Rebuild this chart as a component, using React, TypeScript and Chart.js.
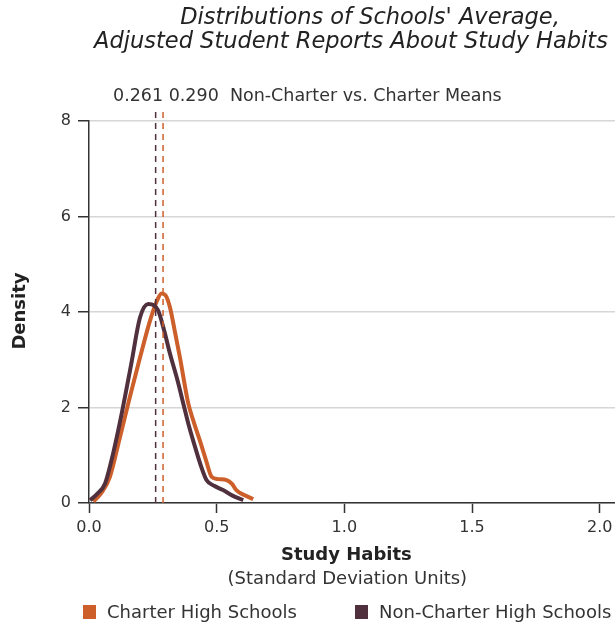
import React, { useEffect, useRef } from "react";
import { Chart, registerables } from "chart.js";

Chart.register(...registerables);

const FONT = "'DejaVu Sans', 'Noto Sans', sans-serif";
const ORANGE = "#cd5f2a";
const PURPLE = "#50303d";

const titleLines = ["Distributions of Schools' Average,", "Adjusted Student Reports About Study Habits"];
const xTitle = "Study Habits";
const xSubtitle = "(Standard Deviation Units)";
const yTitle = "Density";
const meansLabel = "Non-Charter vs. Charter Means";

const nonCharterMean = 0.261;
const charterMean = 0.29;

const nonCharterX = [0.004, 0.03, 0.063, 0.095, 0.128, 0.165, 0.2, 0.232, 0.255, 0.271, 0.295, 0.317, 0.345, 0.369, 0.392, 0.415, 0.44, 0.46, 0.49, 0.525, 0.56, 0.604];
const nonCharterY = [0.06, 0.18, 0.41, 1.05, 1.87, 2.9, 3.89, 4.17, 4.14, 4.03, 3.6, 3.13, 2.6, 2.09, 1.6, 1.18, 0.75, 0.48, 0.36, 0.27, 0.16, 0.06];

const charterX = [0.017, 0.05, 0.082, 0.12, 0.16, 0.2, 0.239, 0.265, 0.284, 0.3, 0.317, 0.336, 0.356, 0.389, 0.41, 0.434, 0.458, 0.48, 0.505, 0.539, 0.56, 0.577, 0.61, 0.643];
const charterY = [0.03, 0.22, 0.55, 1.35, 2.22, 3.05, 3.82, 4.22, 4.39, 4.35, 4.1, 3.6, 3.05, 2.08, 1.7, 1.31, 0.9, 0.55, 0.5, 0.48, 0.4, 0.27, 0.16, 0.08];

const xTicks = [0, 0.5, 1.0, 1.5, 2.0];
const yTicks = [0, 2, 4, 6, 8];

const legendItems = [
  { label: "Charter High Schools", color: ORANGE },
  { label: "Non-Charter High Schools", color: PURPLE },
];

export default function App() {
  const ref = useRef<HTMLCanvasElement | null>(null);

  useEffect(() => {
    const canvas = ref.current;
    if (!canvas) return;

    const overlay = {
      id: "overlay",
      afterDraw(chart: any) {
        const ctx = chart.ctx;
        const xs = chart.scales.x;
        ctx.save();
        ctx.fillStyle = "#222";
        ctx.textBaseline = "middle";
        // title
        ctx.font = `italic 22.5px ${FONT}`;
        ctx.textAlign = "center";
        ctx.fillText(titleLines[0], 370, 18);
        ctx.fillText(titleLines[1], 351, 42);
        // means annotation
        ctx.font = `17.5px ${FONT}`;
        ctx.textAlign = "left";
        ctx.fillStyle = "#333";
        ctx.fillText(`${nonCharterMean.toFixed(3)} ${charterMean.toFixed(3)}  ${meansLabel}`, 113, 96);
        // y title
        ctx.save();
        ctx.translate(20, 311);
        ctx.rotate(-Math.PI / 2);
        ctx.textAlign = "center";
        ctx.font = `bold 18px ${FONT}`;
        ctx.fillStyle = "#222";
        ctx.fillText(yTitle, 0, 0);
        ctx.restore();
        // x titles
        const cx = xs.getPixelForValue(1.0);
        ctx.textAlign = "center";
        ctx.font = `bold 18px ${FONT}`;
        ctx.fillStyle = "#222";
        ctx.fillText(xTitle, cx + 2, 555);
        ctx.font = `18px ${FONT}`;
        ctx.fillStyle = "#333";
        ctx.fillText(xSubtitle, cx + 3, 579);
        // legend
        const lx = [83, 355];
        ctx.font = `18px ${FONT}`;
        ctx.textAlign = "left";
        legendItems.forEach((it, i) => {
          ctx.fillStyle = it.color;
          ctx.fillRect(lx[i], 605, 13, 14);
          ctx.fillStyle = "#333";
          ctx.fillText(it.label, lx[i] + 24, 613);
        });
        ctx.restore();
      },
    };

    const chart = new Chart(canvas, {
      type: "scatter",
      data: {
        datasets: [
          {
            label: "Non-Charter mean",
            data: [{ x: nonCharterMean, y: 0 }, { x: nonCharterMean, y: 8.25 }],
            showLine: true,
            borderColor: PURPLE,
            borderWidth: 1.5,
            borderDash: [6, 5],
            pointRadius: 0,
            clip: false as any,
          },
          {
            label: "Charter mean",
            data: [{ x: charterMean, y: 0 }, { x: charterMean, y: 8.25 }],
            showLine: true,
            borderColor: ORANGE,
            borderWidth: 1.5,
            borderDash: [6, 5],
            pointRadius: 0,
            clip: false as any,
          },
          {
            label: "Non-Charter High Schools",
            data: nonCharterX.map((x, i) => ({ x, y: nonCharterY[i] })),
            showLine: true,
            borderColor: PURPLE,
            borderWidth: 4,
            pointRadius: 0,
            cubicInterpolationMode: "monotone",
          },
          {
            label: "Charter High Schools",
            data: charterX.map((x, i) => ({ x, y: charterY[i] })),
            showLine: true,
            borderColor: ORANGE,
            borderWidth: 4,
            pointRadius: 0,
            cubicInterpolationMode: "monotone",
          },
        ],
      },
      options: {
        animation: false,
        responsive: false,
        maintainAspectRatio: false,
        layout: { padding: { left: 0, right: 0, top: 121, bottom: 84 } },
        plugins: {
          legend: { display: false },
          tooltip: { enabled: false },
          title: { display: false },
        },
        scales: {
          x: {
            type: "linear",
            min: 0,
            max: 2.06,
            afterBuildTicks: (scale: any) => {
              scale.ticks = xTicks.map((v) => ({ value: v }));
            },
            afterFit: (scale: any) => {
              scale.height = 40;
              scale.paddingRight = 0;
              scale.paddingLeft = 0;
            },
            ticks: {
              callback: (v: any) => Number(v).toFixed(1),
              color: "#333",
              font: { family: FONT, size: 16 },
              padding: 5,
              maxRotation: 0,
            },
            grid: { drawOnChartArea: false, tickLength: 10, tickColor: "#333", tickWidth: 1.5 },
            border: { color: "#333", width: 1.5 },
          },
          y: {
            type: "linear",
            min: 0,
            max: 8,
            afterBuildTicks: (scale: any) => {
              scale.ticks = yTicks.map((v) => ({ value: v }));
            },
            afterFit: (scale: any) => {
              scale.width = 89;
            },
            ticks: {
              color: "#333",
              font: { family: FONT, size: 16 },
              padding: 7,
            },
            grid: { color: "#d6d6d6", lineWidth: 1.5, tickLength: 11, tickColor: "#333", tickWidth: 1.5 },
            border: { color: "#333", width: 1.5 },
          },
        },
      },
      plugins: [overlay],
    });

    return () => chart.destroy();
  }, []);

  return (
    <div style={{ position: "fixed", left: 0, top: 0, width: 615, height: 627, background: "#fff" }}>
      <canvas ref={ref} width={615} height={627} style={{ width: 615, height: 627 }} />
    </div>
  );
}
